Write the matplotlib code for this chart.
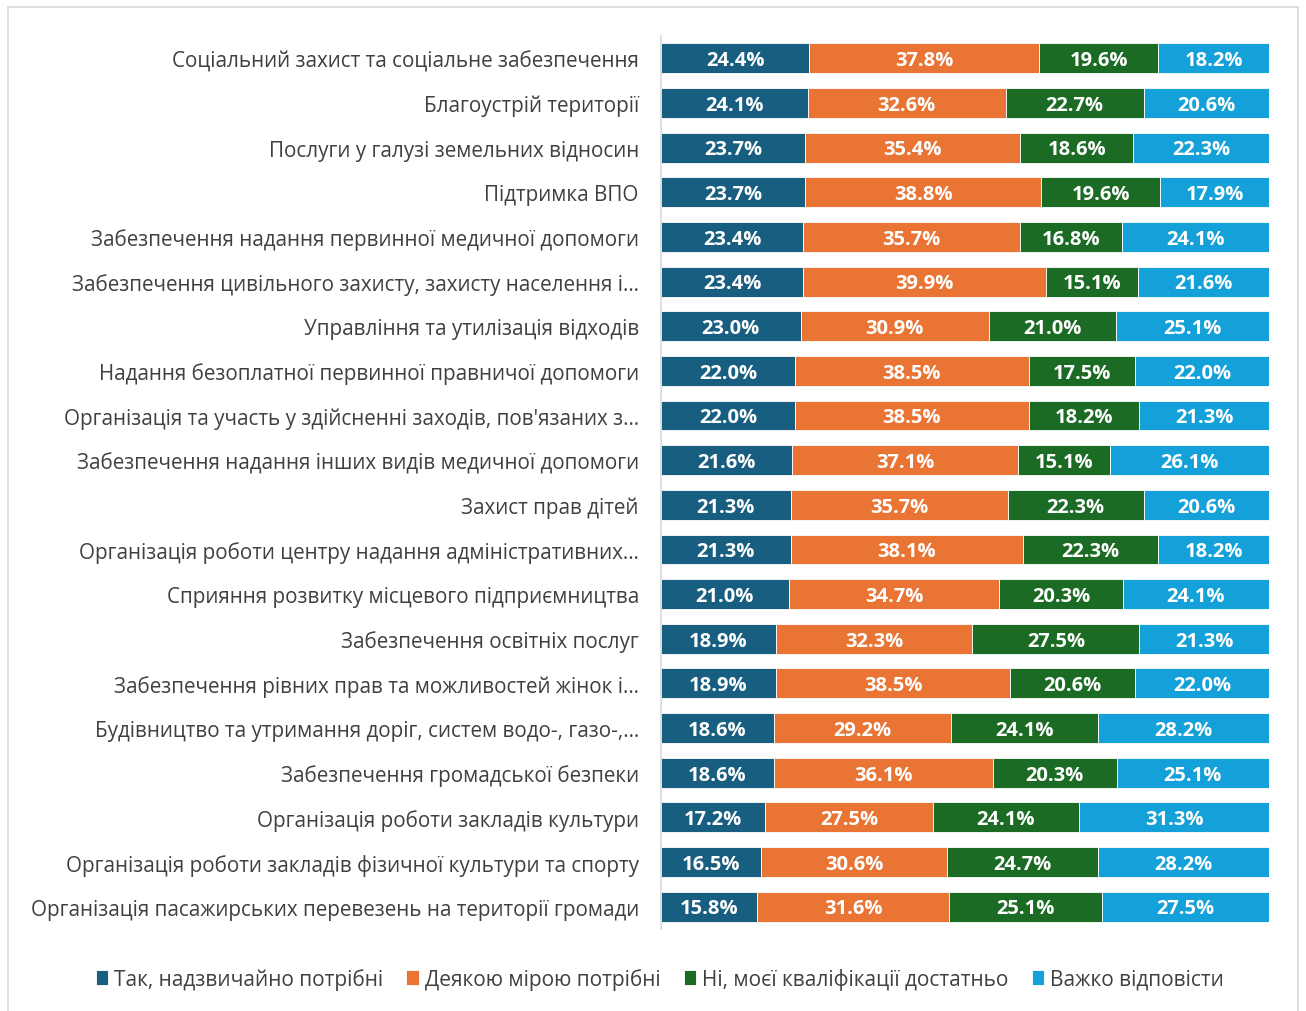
import matplotlib
matplotlib.use("Agg")
import matplotlib.pyplot as plt
from matplotlib.patches import Rectangle
import numpy as np

categories = [
    "Соціальний захист та соціальне забезпечення",
    "Благоустрій території",
    "Послуги у галузі земельних відносин",
    "Підтримка ВПО",
    "Забезпечення надання первинної медичної допомоги",
    "Забезпечення цивільного захисту, захисту населення і…",
    "Управління та утилізація відходів",
    "Надання безоплатної первинної правничої допомоги",
    "Організація та участь у здійсненні заходів, пов'язаних з…",
    "Забезпечення надання інших видів медичної допомоги",
    "Захист прав дітей",
    "Організація роботи центру надання адміністративних…",
    "Сприяння розвитку місцевого підприємництва",
    "Забезпечення освітніх послуг",
    "Забезпечення рівних прав та можливостей жінок і…",
    "Будівництво та утримання доріг, систем водо-, газо-,…",
    "Забезпечення громадської безпеки",
    "Організація роботи закладів культури",
    "Організація роботи закладів фізичної культури та спорту",
    "Організація пасажирських перевезень на території громади",
]
very_needed = [24.4, 24.1, 23.7, 23.7, 23.4, 23.4, 23.0, 22.0, 22.0, 21.6, 21.3, 21.3, 21.0, 18.9, 18.9, 18.6, 18.6, 17.2, 16.5, 15.8]
somewhat_needed = [37.8, 32.6, 35.4, 38.8, 35.7, 39.9, 30.9, 38.5, 38.5, 37.1, 35.7, 38.1, 34.7, 32.3, 38.5, 29.2, 36.1, 27.5, 30.6, 31.6]
not_needed = [19.6, 22.7, 18.6, 19.6, 16.8, 15.1, 21.0, 17.5, 18.2, 15.1, 22.3, 22.3, 20.3, 27.5, 20.6, 24.1, 20.3, 24.1, 24.7, 25.1]
hard_to_say = [18.2, 20.6, 22.3, 17.9, 24.1, 21.6, 25.1, 22.0, 21.3, 26.1, 20.6, 18.2, 24.1, 21.3, 22.0, 28.2, 25.1, 31.3, 28.2, 27.5]
series_names = ["Так, надзвичайно потрібні", "Деякою мірою потрібні",
                "Ні, моєї кваліфікації достатньо", "Важко відповісти"]
colors = ["#185E80", "#E97434", "#1C6B25", "#14A0D8"]

plt.rcParams['font.family'] = ['Open Sans', 'DejaVu Sans']

fig = plt.figure(figsize=(13.06, 10.12), dpi=100)
# outer chart border
fig.patches.append(Rectangle((8/1306, -0.01), (1298-8)/1306, (1012-8)/1012 + 0.01,
                             transform=fig.transFigure, fill=False, edgecolor="#D9D9D9", lw=1.2))

ax = fig.add_axes([661/1306, 1 - 930/1012, (1269-661)/1306, (930-37)/1012])
series = [very_needed, somewhat_needed, not_needed, hard_to_say]
n = len(categories)
y = np.arange(n)
data = np.array(series)
totals = data.sum(axis=0)
left = np.zeros(n)
for vals, name, c in zip(series, series_names, colors):
    v = np.array(vals)
    w = v / totals * 100
    ax.barh(y, w, left=left, height=0.67, color=c, label=name,
            edgecolor="white", linewidth=0.6)
    for yi, (l, wi, val) in enumerate(zip(left, w, v)):
        ax.text(l + wi / 2, yi + 0.04, f"{val:.1f}%", ha="center", va="center",
                color="white", fontsize=14.5, fontweight="bold")
    left = left + w

ax.set_xlim(0, 100)
ax.set_ylim(n - 0.5, -0.5)
ax.set_yticks(y)
ax.set_yticklabels(categories, fontsize=14.9, color="#404040")
ax.tick_params(axis="y", length=0, pad=16)
ax.set_xticks([])
for s in ["top", "right", "bottom"]:
    ax.spines[s].set_visible(False)
ax.spines["left"].set_color("#D9D9D9")
ax.spines["left"].set_linewidth(1.2)

handles, labels = ax.get_legend_handles_labels()
fig.legend(handles, labels, loc="center", bbox_to_anchor=(660/1306, 1 - 980/1012),
           ncol=4, frameon=False, fontsize=15, handlelength=0.6, handleheight=0.7,
           handletextpad=0.3, columnspacing=1.1, labelcolor="#404040")

fig.savefig("out.png", dpi=100)
